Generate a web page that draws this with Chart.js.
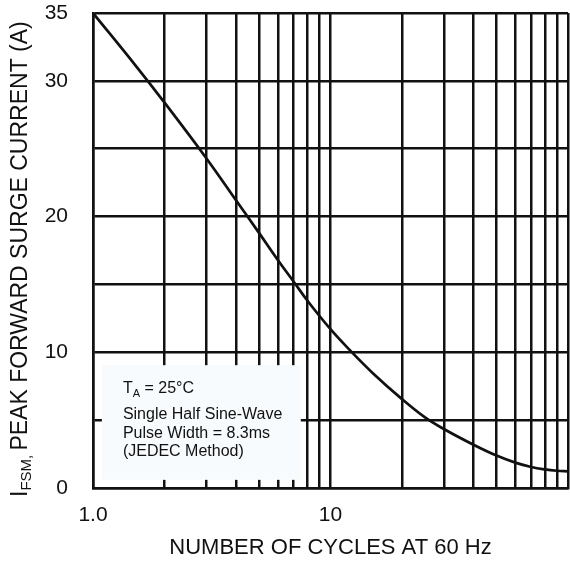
<!DOCTYPE html>
<html>
<head>
<meta charset="utf-8">
<script src="https://cdn.jsdelivr.net/npm/chart.js@4.4.1/dist/chart.umd.min.js"></script>
<style>
  html, body { margin: 0; padding: 0; background: #fff; }
</style>
</head>
<body>
<canvas id="surgeChart" width="570" height="562"></canvas>
<script>
// peak forward surge current vs number of cycles
const cycles = [1, 1.5, 2, 3, 4, 5, 6, 7, 8, 10, 12, 15, 20, 25, 30, 40, 50, 60, 70, 80, 90, 100];
const surgeCurrent = [35, 31.2, 28.4, 24.3, 21.2, 18.8, 16.8, 15.2, 13.8, 11.7, 10.2, 8.5, 6.55, 5.2, 4.35, 3.19, 2.39, 1.87, 1.55, 1.37, 1.27, 1.22];

const xGridValues = [1, 2, 3, 4, 5, 6, 7, 8, 9, 10, 20, 30, 40, 50, 60, 70, 80, 90, 100];
const xTickLabels = { 1: "1.0", 10: "10" };
const yTickLabels = [0, 10, 20, 30, 35];
const noteLines = ["Single Half Sine-Wave", "Pulse Width = 8.3ms", "(JEDEC Method)"];

const FONT = "'Liberation Sans', Arial, Helvetica, sans-serif";
const INK = "#111";

// pale box with the test conditions, sits over the grid in the lower left
const noteBox = {
  id: "noteBox",
  beforeDatasetsDraw(chart) {
    const { ctx, scales: { x, y } } = chart;
    const left = x.getPixelForValue(1.09), right = x.getPixelForValue(7.5);
    const top = y.getPixelForValue(9.05), bottom = y.getPixelForValue(0.6);
    ctx.save();
    ctx.fillStyle = "#f8fbfd";
    ctx.fillRect(left, top, right - left, bottom - top);

    ctx.fillStyle = INK;
    ctx.textBaseline = "alphabetic";
    const tx = left + 21;
    ctx.font = `16px ${FONT}`;
    ctx.fillText("T", tx, top + 28);
    let pos = tx + ctx.measureText("T").width;
    ctx.font = `11px ${FONT}`;
    ctx.fillText("A", pos, top + 32);
    pos += ctx.measureText("A").width;
    ctx.font = `16px ${FONT}`;
    ctx.fillText(" = 25°C", pos, top + 28);
    noteLines.forEach((line, i) => {
      ctx.fillText(line, tx, top + 54 + i * 18.5);
    });
    ctx.restore();
  },
};

// rotated y title with the FSM subscript
const yTitle = {
  id: "yTitle",
  afterDraw(chart) {
    const { ctx } = chart;
    ctx.save();
    ctx.translate(27, 497);
    ctx.rotate(-Math.PI / 2);
    ctx.fillStyle = INK;
    ctx.textBaseline = "alphabetic";
    ctx.font = `23px ${FONT}`;
    ctx.fillText("I", 0, 0);
    let pos = ctx.measureText("I").width;
    ctx.font = `15px ${FONT}`;
    ctx.fillText("FSM,", pos, 4);
    pos += ctx.measureText("FSM, ").width;
    ctx.font = `23px ${FONT}`;
    ctx.fillText("PEAK FORWARD SURGE CURRENT (A)", pos, 0);
    ctx.restore();
  },
};

const gridStyle = { color: INK, lineWidth: 2.5, drawTicks: false };
const borderStyle = { color: INK, width: 2.5 };

new Chart(document.getElementById("surgeChart"), {
  type: "line",
  data: {
    datasets: [
      {
        data: cycles.map((c, i) => ({ x: c, y: surgeCurrent[i] })),
        borderColor: INK,
        borderWidth: 2.7,
        pointRadius: 0,
        tension: 0.4,
        fill: false,
      },
    ],
  },
  options: {
    responsive: false,
    animation: false,
    devicePixelRatio: 1,
    layout: { padding: { top: 13, right: 2, left: 0, bottom: 0 } },
    plugins: { legend: { display: false }, tooltip: { enabled: false } },
    scales: {
      x: {
        type: "logarithmic",
        min: 1,
        max: 100,
        afterBuildTicks: (scale) => {
          scale.ticks = xGridValues.map((v) => ({ value: v }));
        },
        afterFit: (scale) => {
          scale.height = 74;
          scale.paddingLeft = 0;
          scale.paddingRight = 0;
        },
        grid: gridStyle,
        border: borderStyle,
        ticks: {
          autoSkip: false,
          maxRotation: 0,
          minRotation: 0,
          padding: 15,
          color: INK,
          font: { family: FONT, size: 21 },
          callback: (v) => xTickLabels[v] || "",
        },
        title: {
          display: true,
          text: "NUMBER OF CYCLES AT 60 Hz",
          color: INK,
          font: { family: FONT, size: 22 },
          padding: { top: 0, bottom: 1 },
        },
      },
      y: {
        min: 0,
        max: 35,
        afterFit: (scale) => {
          scale.width = 93;
          scale.paddingTop = 0;
          scale.paddingBottom = 0;
        },
        grid: gridStyle,
        border: borderStyle,
        ticks: {
          stepSize: 5,
          padding: 25,
          color: INK,
          font: { family: FONT, size: 21 },
          callback: (v) => (yTickLabels.includes(v) ? v : ""),
        },
      },
    },
  },
  plugins: [noteBox, yTitle],
});
</script>
</body>
</html>
